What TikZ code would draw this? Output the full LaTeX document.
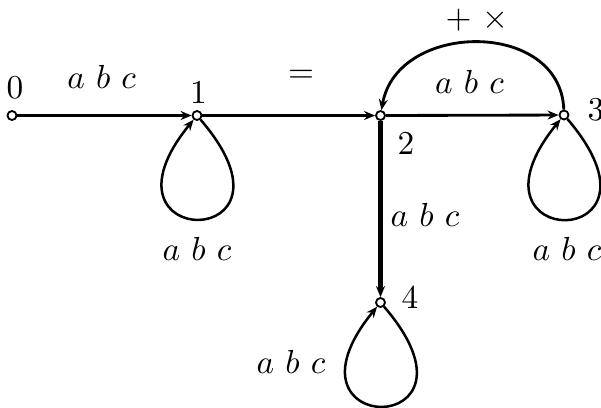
\documentclass[tikz,border=0pt]{standalone}
\usetikzlibrary{arrows.meta,backgrounds}
\begin{document}
\begin{tikzpicture}[x=0.3pt,y=0.3pt,
  st/.style={circle,draw,fill=white,inner sep=0pt,minimum size=2.7pt,line width=0.55pt},
  lbl/.style={inner sep=0pt},
  edg/.style={line width=0.85pt,-{Stealth[length=3.3pt,width=2.7pt,inset=1.1pt]}},
  thk/.style={line width=1.3pt},
  lp/.style={line width=0.75pt}
]
\useasboundingbox (0,0) rectangle (601,-407);
% states
\node[st] (n0) at (12,-115.5) {};
\node[st] (n1) at (197,-115.5) {};
\node[st] (n2) at (380.5,-115.5) {};
\node[st] (n3) at (564,-115) {};
\node[st] (n4) at (380.5,-302.5) {};
% state labels
\node[lbl] (l0) at (15,-88) {0};
\node[lbl] (l1) at (198.5,-92) {1};
\node[lbl] (l2) at (406,-143) {2};
\node[lbl] (l3) at (596,-110) {3};
\node[lbl] (l4) at (410,-297) {4};
\begin{pgfonlayer}{background}
\draw[edg] (n0) -- (n1);
\draw[edg] (n1) -- (n2);
\draw[edg] (n2) -- (n3);
\draw[edg,thk] (n2) -- (n4);
\draw[edg] (n3) to[out=92,in=80,looseness=1.27] (n2);
\draw[edg,lp] (n1) .. controls +(118,-137) and +(-112,-137) .. (n1);
\draw[edg,lp] (n3) .. controls +(118,-138) and +(-112,-138) .. (n3);
\draw[edg,lp] (n4) .. controls +(118,-137) and +(-112,-137) .. (n4);
\end{pgfonlayer}
% edge labels
\node[lbl] (e01) at (101.6,-77) {$a\ b\ c$};
\node[lbl] (e12) at (301,-76) {$=$};
\node[lbl] (e32a) at (477,-20) {$+\ \times$};
\node[lbl] (e32b) at (469.5,-82) {$a\ b\ c$};
\node[lbl] (e24) at (425,-215) {$a\ b\ c$};
\node[lbl] (e11) at (197,-249) {$a\ b\ c$};
\node[lbl] (e33) at (567,-249) {$a\ b\ c$};
\node[lbl] (e44) at (291,-362) {$a\ b\ c$};
\end{tikzpicture}
\end{document}
